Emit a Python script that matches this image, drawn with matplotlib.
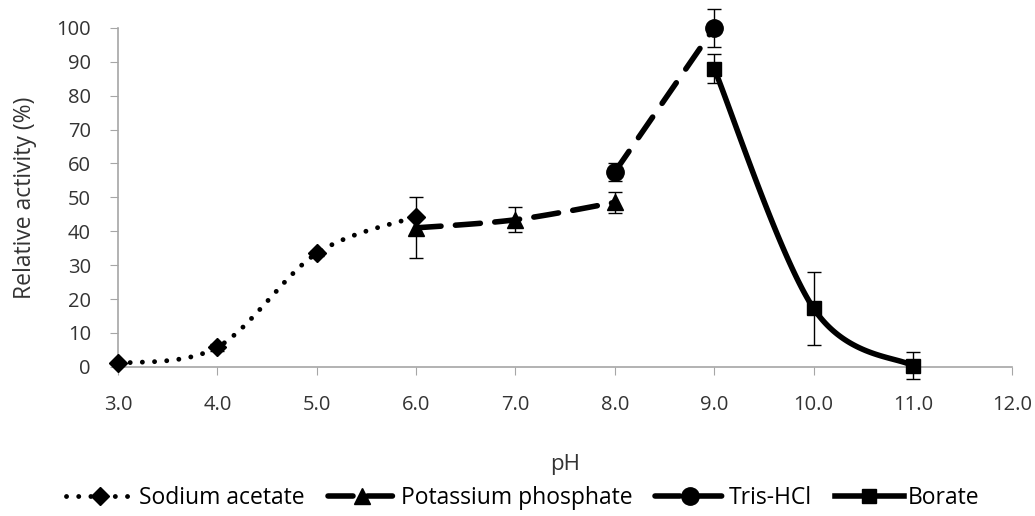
import numpy as np
import matplotlib
matplotlib.use("Agg")
import matplotlib.pyplot as plt
from matplotlib.lines import Line2D

plt.rcParams['font.family'] = ['Open Sans', 'DejaVu Sans']

# 数据
ph_acetate = [3.0, 4.0, 5.0, 6.0]
act_acetate = [1.0, 5.8, 33.5, 44.3]
err_acetate = [0.0, 1.0, 0.8, 0.0]

ph_phosphate = [6.0, 7.0, 8.0]
act_phosphate = [41.0, 43.4, 48.5]
err_phosphate = [9.0, 3.7, 3.2]

ph_tris = [8.0, 9.0]
act_tris = [57.5, 100.0]
err_tris = [2.6, 5.5]

ph_borate = [9.0, 10.0, 11.0]
act_borate = [88.0, 17.3, 0.3]
err_borate = [4.3, 10.8, 4.0]

labels = ['Sodium acetate', 'Potassium phosphate', 'Tris-HCl', 'Borate']
x_ticks = np.arange(3.0, 12.01, 1.0)
y_ticks = np.arange(0, 101, 10)


def smooth(x, y, n=60):
    # Excel风格的平滑曲线 (Catmull-Rom 贝塞尔)
    x = np.asarray(x, float)
    y = np.asarray(y, float)
    if len(x) < 3:
        return x, y
    px = np.concatenate([[x[0]], x, [x[-1]]])
    py = np.concatenate([[y[0]], y, [y[-1]]])
    xs, ys = [], []
    t = np.linspace(0, 1, n)
    for i in range(1, len(px) - 2):
        p0 = np.array([px[i], py[i]])
        p3 = np.array([px[i + 1], py[i + 1]])
        p1 = p0 + (np.array([px[i + 1], py[i + 1]]) - np.array([px[i - 1], py[i - 1]])) / 6
        p2 = p3 - (np.array([px[i + 2], py[i + 2]]) - np.array([px[i], py[i]])) / 6
        b = ((1 - t) ** 3)[:, None] * p0 + (3 * (1 - t) ** 2 * t)[:, None] * p1 \
            + (3 * (1 - t) * t ** 2)[:, None] * p2 + (t ** 3)[:, None] * p3
        xs.extend(b[:, 0])
        ys.extend(b[:, 1])
    return np.array(xs), np.array(ys)


fig = plt.figure(figsize=(10.35, 5.16), dpi=100)
ax = fig.add_axes([0.114, 0.289, 0.864, 0.657])

styles = [
    dict(ls=(0, (0.01, 2.5)), lw=3.5, marker='D', ms=9),
    dict(ls=(0, (4.5, 2.6)), lw=4, marker='^', ms=11),
    dict(ls=(0, (4.5, 3.0)), lw=4, marker='o', ms=12.5),
    dict(ls='-', lw=4, marker='s', ms=9.5),
]
series = [
    (ph_acetate, act_acetate, err_acetate),
    (ph_phosphate, act_phosphate, err_phosphate),
    (ph_tris, act_tris, err_tris),
    (ph_borate, act_borate, err_borate),
]

handles = []
for (x, y, e), st, lab in zip(series, styles, labels):
    sx, sy = smooth(x, y)
    ax.plot(sx, sy, color='black', linestyle=st['ls'], lw=st['lw'],
            dash_capstyle='round', solid_capstyle='butt', zorder=2)
    ax.errorbar(x, y, yerr=e, fmt='none', ecolor='black', elinewidth=1,
                capsize=5, capthick=1, zorder=3)
    ax.plot(x, y, linestyle='none', marker=st['marker'], ms=st['ms'],
            color='black', zorder=4)
    handles.append(Line2D([], [], color='black', linestyle=st['ls'], lw=st['lw'],
                          dash_capstyle='round', marker=st['marker'],
                          ms=st['ms'], label=lab))

ax.set_xlim(3.0, 12.0)
ax.set_ylim(0, 100)
ax.set_xticks(x_ticks)
ax.set_xticklabels([f'{v:.1f}' for v in x_ticks])
ax.set_yticks(y_ticks)
ax.tick_params(axis='both', labelsize=14.5, color='#a6a6a6', length=5.5,
               labelcolor='#333333')
ax.tick_params(axis='x', pad=15)
ax.tick_params(axis='y', pad=14)
for side in ['top', 'right']:
    ax.spines[side].set_visible(False)
for side in ['left', 'bottom']:
    ax.spines[side].set_color('#a6a6a6')
    ax.spines[side].set_linewidth(1.2)
for art in ax.lines + ax.collections:
    art.set_clip_on(False)

ax.set_xlabel('pH', fontsize=16, color='#333333', labelpad=28)
ax.set_ylabel('Relative activity (%)', fontsize=16.5, color='#333333', labelpad=14)

fig.legend(handles=handles, loc='center', bbox_to_anchor=(0.505, 0.035), ncol=4,
           frameon=False, fontsize=16.5, handlelength=3.0, handletextpad=0.2,
           columnspacing=1.0)

plt.savefig('out.png', dpi=100)
